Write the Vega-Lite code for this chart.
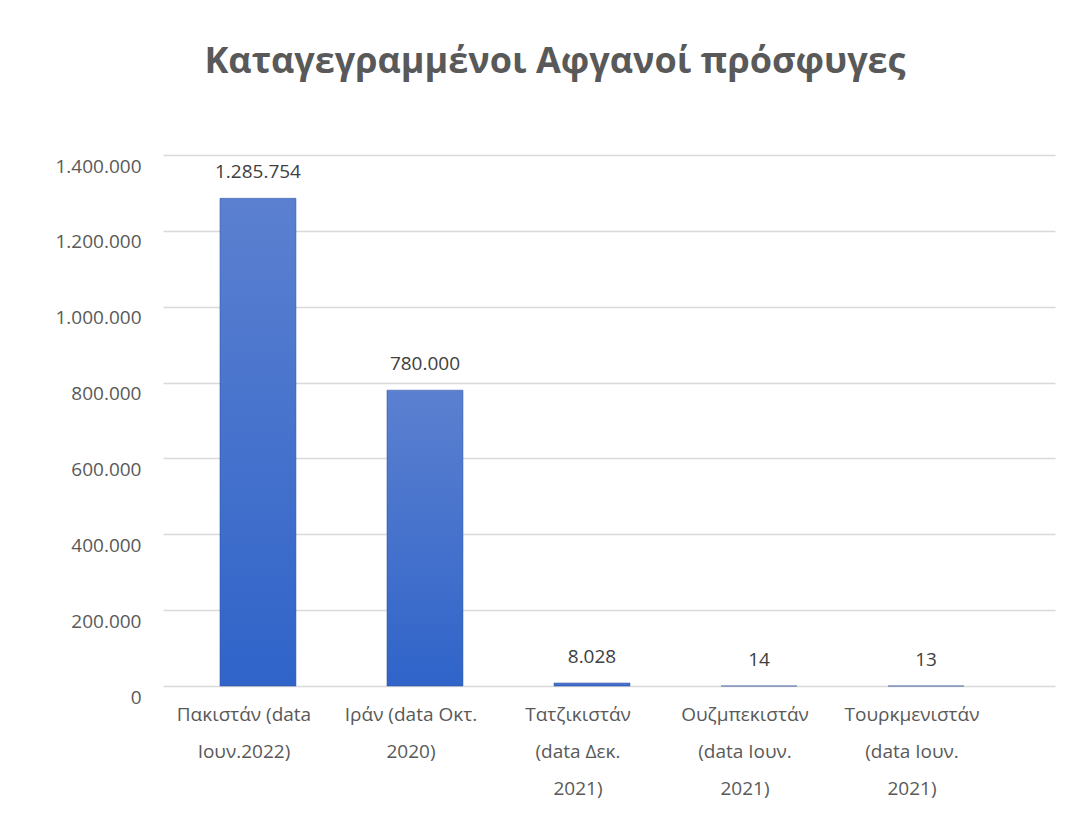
{
  "$schema": "https://vega.github.io/schema/vega-lite/v6.json",
  "width": 892,
  "height": 531,
  "autosize": {"type": "none"},
  "padding": {"left": 163, "top": 155, "right": 33, "bottom": 130},
  "background": "white",
  "config": {
    "locale": {"number": {"decimal": ",", "thousands": ".", "grouping": [3], "currency": ["", " €"]}},
    "view": {"stroke": null},
    "font": "Open Sans"
  },
  "title": {
    "text": "Καταγεγραμμένοι Αφγανοί πρόσφυγες",
    "font": "Open Sans",
    "fontSize": 36,
    "fontWeight": "bold",
    "color": "#595959",
    "anchor": "middle",
    "frame": "bounds",
    "offset": 74
  },
  "data": {
    "values": [
      {"country": "Πακιστάν (data|Ιουν.2022)", "refugees": 1285754},
      {"country": "Ιράν (data Οκτ.|2020)", "refugees": 780000},
      {"country": "Τατζικιστάν|(data Δεκ.|2021)", "refugees": 8028},
      {"country": "Ουζμπεκιστάν|(data Ιουν.|2021)", "refugees": 14},
      {"country": "Τουρκμενιστάν|(data Ιουν.|2021)", "refugees": 13}
    ]
  },
  "encoding": {
    "x": {
      "field": "country",
      "type": "nominal",
      "sort": null,
      "scale": {"paddingInner": 0.545, "paddingOuter": 0.443, "align": 0.385},
      "axis": {
        "title": null,
        "labelAngle": 0,
        "labelExpr": "split(datum.label, '|')",
        "labelFont": "Open Sans",
        "labelFontSize": 19,
        "labelColor": "#595959",
        "labelLineHeight": 37,
        "labelPadding": 19,
        "labelOffset": -14,
        "labelLimit": 200,
        "ticks": false,
        "domain": false,
        "grid": false
      }
    },
    "y": {
      "field": "refugees",
      "type": "quantitative",
      "scale": {"domain": [0, 1400000], "nice": false},
      "axis": {
        "title": null,
        "values": [0, 200000, 400000, 600000, 800000, 1000000, 1200000, 1400000],
        "format": ",d",
        "labelFont": "Open Sans",
        "labelFontSize": 19,
        "labelColor": "#595959",
        "labelPadding": 22,
        "labelOffset": 11,
        "ticks": false,
        "domain": false,
        "grid": true,
        "gridColor": "#d9d9d9",
        "gridWidth": 1.5
      }
    }
  },
  "layer": [
    {
      "mark": {
        "type": "bar",
        "color": {
          "gradient": "linear",
          "x1": 0, "y1": 0, "x2": 0, "y2": 1,
          "stops": [
            {"offset": 0, "color": "#5b80d0"},
            {"offset": 1, "color": "#3064c9"}
          ]
        },
        "stroke": "#2a4f9e",
        "strokeWidth": 0.5
      }
    },
    {
      "mark": {
        "type": "text",
        "baseline": "bottom",
        "dy": -16,
        "font": "Open Sans",
        "fontSize": 19,
        "color": "#404040"
      },
      "encoding": {
        "text": {"field": "refugees", "type": "quantitative", "format": ",d"}
      }
    }
  ]
}
